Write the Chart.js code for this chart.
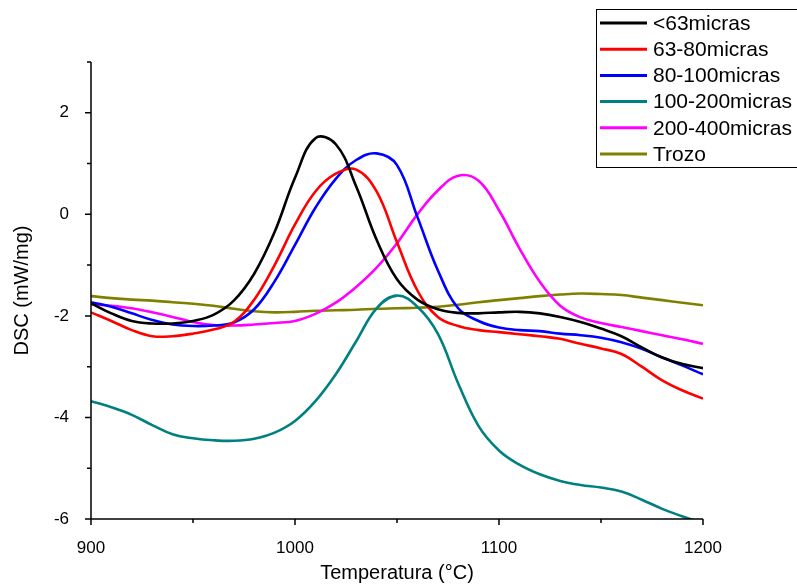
<!DOCTYPE html>
<html lang="es">
<head>
<meta charset="UTF-8">
<title>DSC</title>
<script src="https://cdn.jsdelivr.net/npm/chart.js"></script>
<style>
    html, body { margin: 0; padding: 0; background: #fff; }
</style>
</head>
<body>
<canvas id="grafico" width="797" height="586"></canvas>
<script>
    // temperatura (°C), cada 10 grados
    const temperaturas = [900, 910, 920, 930, 940, 950, 960, 970, 980, 990,
        1000, 1010, 1020, 1030, 1040, 1050, 1060, 1070, 1080, 1090,
        1100, 1110, 1120, 1130, 1140, 1150, 1160, 1170, 1180, 1190, 1200];

    const menor63 = [-1.75, -1.95, -2.1, -2.15, -2.15, -2.1, -1.98, -1.7, -1.17, -0.35,
        0.72, 1.5, 1.38, 0.55, -0.5, -1.28, -1.68, -1.87, -1.94, -1.95,
        -1.93, -1.92, -1.95, -2.02, -2.12, -2.25, -2.4, -2.62, -2.82, -2.95, -3.03];

    const m63a80 = [-1.93, -2.1, -2.28, -2.4, -2.4, -2.35, -2.27, -2.12, -1.68, -1.0,
        -0.2, 0.45, 0.8, 0.88, 0.45, -0.55, -1.5, -2.02, -2.2, -2.28,
        -2.32, -2.36, -2.4, -2.45, -2.55, -2.64, -2.75, -3.0, -3.27, -3.47, -3.63];

    const m80a100 = [-1.73, -1.82, -1.95, -2.08, -2.17, -2.2, -2.19, -2.13, -1.87, -1.32,
        -0.6, 0.13, 0.7, 1.07, 1.2, 0.97, -0.05, -1.1, -1.85, -2.1,
        -2.23, -2.28, -2.3, -2.35, -2.38, -2.43, -2.52, -2.65, -2.82, -2.98, -3.15];

    const m100a200 = [-3.68, -3.8, -3.95, -4.15, -4.33, -4.41, -4.45, -4.46, -4.42, -4.3,
        -4.07, -3.68, -3.15, -2.5, -1.85, -1.6, -1.82, -2.35, -3.33, -4.17,
        -4.65, -4.93, -5.12, -5.25, -5.33, -5.38, -5.46, -5.62, -5.8, -5.95, -6.08];

    const m200a400 = [-1.77, -1.8, -1.85, -1.93, -2.02, -2.12, -2.18, -2.19, -2.17, -2.14,
        -2.1, -1.96, -1.74, -1.43, -1.05, -0.57, 0.0, 0.47, 0.76, 0.66,
        0.08, -0.67, -1.33, -1.8, -2.03, -2.14, -2.22, -2.3, -2.38, -2.46, -2.55];

    const trozo = [-1.61, -1.65, -1.68, -1.7, -1.73, -1.76, -1.8, -1.86, -1.91, -1.93,
        -1.92, -1.9, -1.89, -1.88, -1.86, -1.85, -1.84, -1.82, -1.78, -1.73,
        -1.69, -1.65, -1.61, -1.58, -1.56, -1.57, -1.59, -1.64, -1.69, -1.74, -1.79];

    const nombres = ['<63micras', '63-80micras', '80-100micras', '100-200micras', '200-400micras', 'Trozo'];
    const colores = ['#000000', '#ff0000', '#0000ff', '#008080', '#ff00ff', '#808000'];
    const series = [menor63, m63a80, m80a100, m100a200, m200a400, trozo];

    const ticksX = [900, 1000, 1100, 1200];
    const ticksY = [-6, -4, -2, 0, 2];

    const datasets = series.map(function (serie, i) {
        return {
            label: nombres[i],
            data: temperaturas.map(function (t, j) { return { x: t, y: serie[j] }; }),
            borderColor: colores[i],
            borderWidth: 2.6,
            pointRadius: 0,
            tension: 0.4,
            fill: false
        };
    });

    // ejes con marcas mayores/menores y la leyenda en caja
    const ejes = {
        id: 'ejes',
        afterDraw(chart) {
            const ctx = chart.ctx;
            const a = chart.chartArea;
            const sx = chart.scales.x;
            const sy = chart.scales.y;
            ctx.save();
            ctx.strokeStyle = '#000';
            ctx.lineWidth = 1.5;
            ctx.beginPath();
            ctx.moveTo(a.left, a.top);
            ctx.lineTo(a.left, a.bottom);
            ctx.lineTo(a.right, a.bottom);
            for (let v = sx.min; v <= sx.max; v += 50) {
                const px = sx.getPixelForValue(v);
                const largo = ticksX.includes(v) ? 6 : 4;
                ctx.moveTo(px, a.bottom);
                ctx.lineTo(px, a.bottom + largo);
            }
            for (let v = sy.min; v <= sy.max; v += 1) {
                const py = sy.getPixelForValue(v);
                const largo = ticksY.includes(v) ? 6 : 4;
                ctx.moveTo(a.left, py);
                ctx.lineTo(a.left - largo, py);
            }
            ctx.stroke();

            // leyenda
            ctx.fillStyle = '#fff';
            ctx.fillRect(596.5, 9.5, 210, 158);
            ctx.lineWidth = 1;
            ctx.strokeRect(596.5, 9.5, 210, 158);
            ctx.font = '21px Arial, "Liberation Sans", sans-serif';
            ctx.textBaseline = 'middle';
            ctx.textAlign = 'left';
            nombres.forEach(function (nombre, i) {
                const yc = 23 + i * 26.2;
                ctx.strokeStyle = colores[i];
                ctx.lineWidth = 3;
                ctx.beginPath();
                ctx.moveTo(600, yc);
                ctx.lineTo(647, yc);
                ctx.stroke();
                ctx.fillStyle = '#000';
                ctx.fillText(nombre, 653, yc + 1);
            });
            ctx.restore();
        }
    };

    new Chart(document.getElementById('grafico'), {
        type: 'line',
        data: { datasets: datasets },
        plugins: [ejes],
        options: {
            responsive: false,
            animation: false,
            layout: { padding: { top: 62, right: 94, bottom: 0, left: 0 } },
            plugins: {
                legend: { display: false },
                tooltip: { enabled: false }
            },
            scales: {
                x: {
                    type: 'linear',
                    min: 900,
                    max: 1200,
                    afterFit: function (scale) { scale.height = 67; },
                    grid: { display: false },
                    border: { display: false },
                    ticks: {
                        stepSize: 50,
                        autoSkip: false,
                        maxRotation: 0,
                        padding: 11,
                        color: '#000',
                        font: { family: 'Arial, "Liberation Sans", sans-serif', size: 17 },
                        callback: function (v) { return ticksX.includes(v) ? String(v) : ''; }
                    },
                    title: {
                        display: true,
                        text: 'Temperatura (°C)',
                        color: '#000',
                        font: { family: 'Arial, "Liberation Sans", sans-serif', size: 20 },
                        padding: { top: 0, bottom: 1 }
                    }
                },
                y: {
                    min: -6,
                    max: 3,
                    afterFit: function (scale) { scale.width = 91; },
                    grid: { display: false },
                    border: { display: false },
                    ticks: {
                        stepSize: 1,
                        autoSkip: false,
                        padding: 14,
                        color: '#000',
                        font: { family: 'Arial, "Liberation Sans", sans-serif', size: 17 },
                        callback: function (v) { return ticksY.includes(v) ? String(v) : ''; }
                    },
                    title: {
                        display: true,
                        text: 'DSC (mW/mg)',
                        color: '#000',
                        font: { family: 'Arial, "Liberation Sans", sans-serif', size: 20 },
                        padding: { top: 10, bottom: 0 }
                    }
                }
            }
        }
    });
</script>
</body>
</html>
